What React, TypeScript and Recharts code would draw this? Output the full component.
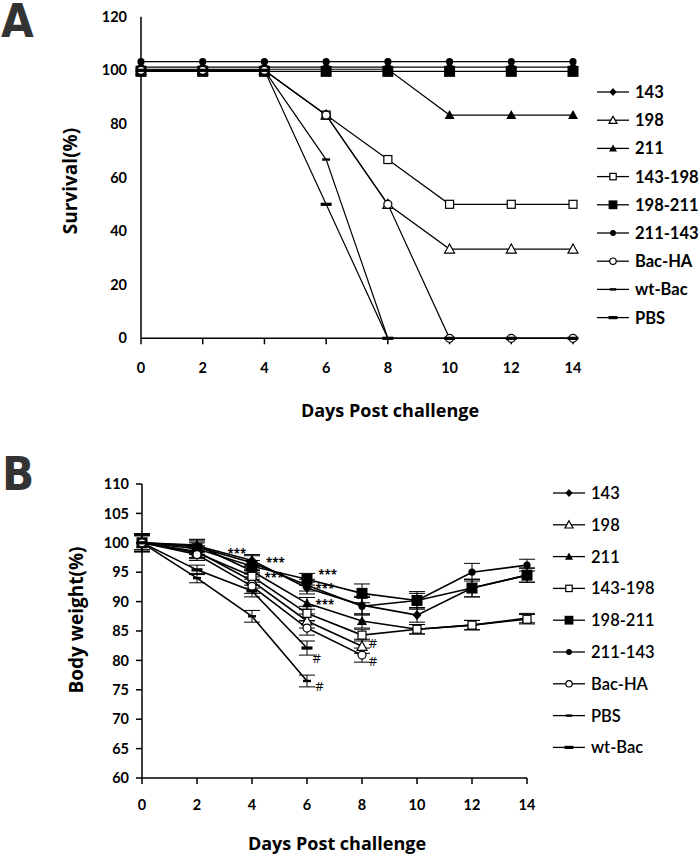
import React from 'react';
import {
  LineChart,
  Line,
  XAxis,
  YAxis,
  ErrorBar,
  ReferenceDot,
} from 'recharts';

// days sampled in both panels
const days = [0, 2, 4, 6, 8, 10, 12, 14];

// panel A: survival (%)
const surv143 = [101.2, 101.2, 101.2, 101.2, 101.2, 101.2, 101.2, 101.2];
const surv198 = [100, 100, 100, 83.3, 50, 33.3, 33.3, 33.3];
const surv211 = [100.4, 100.4, 100.4, 100.4, 100.4, 83.3, 83.3, 83.3];
const surv143_198 = [100, 100, 100, 83.3, 66.7, 50, 50, 50];
const surv198_211 = [99.6, 99.6, 99.6, 99.6, 99.6, 99.6, 99.6, 99.6];
const surv211_143 = [103.2, 103.2, 103.2, 103.2, 103.2, 103.2, 103.2, 103.2];
const survBacHA = [100, 100, 100, 83.3, 50, 0, 0, 0];
const survWtBac = [100, 100, 100, 66.7, 0, 0, 0, 0];
const survPBS = [100, 100, 100, 50, 0, 0, 0, 0];

// panel B: body weight (%)
const w143 = [100, 99.5, 97.0, 92.3, 89.4, 87.7, 92.3, 94.5];
const w198 = [100, 98.5, 93.5, 86.7, 82.4, null, null, null];
const w211 = [100, 99.6, 95.2, 89.7, 86.7, 85.3, 86.0, 87.2];
const w143_198 = [100, 98.3, 94.3, 88.0, 84.3, 85.3, 86.0, 87.0];
const w198_211 = [100, 99.0, 96.0, 93.8, 91.4, 90.2, 92.3, 94.5];
const w211_143 = [100, 99.3, 96.6, 92.8, 89.2, 90.2, 95.0, 96.2];
const wBacHA = [100, 98.0, 92.6, 85.5, 80.9, null, null, null];
const wWtBac = [100, 95.4, 91.8, 82.1, null, null, null, null];
const wPBS = [100, 94.0, 87.5, 76.5, null, null, null, null];

// panel B: error bars (+/-)
const e143 = [1.5, 1.0, 1.0, 1.0, 1.5, 1.2, 1.5, 1.2];
const e198 = [1.5, 1.0, 1.2, 1.2, 1.2, null, null, null];
const e211 = [1.5, 1.0, 1.0, 1.0, 1.2, 0.8, 0.8, 0.8];
const e143_198 = [1.5, 1.0, 1.0, 1.2, 1.0, 0.8, 0.8, 0.8];
const e198_211 = [1.5, 1.0, 1.0, 1.0, 1.6, 1.5, 1.5, 1.2];
const e211_143 = [1.5, 1.0, 1.2, 1.0, 1.5, 1.2, 1.5, 1.0];
const eBacHA = [1.5, 1.0, 1.2, 1.2, 1.2, null, null, null];
const eWtBac = [1.2, 0.8, 1.0, 1.2, null, null, null, null];
const ePBS = [1.2, 0.8, 1.0, 1.0, null, null, null, null];

// panel B: significance marks
const noteText = ['***', '***', '***', '***', '***', '***', '#', '#', '#', '#'];
const noteDay = [3.45, 4.85, 4.8, 6.75, 6.65, 6.65, 6.35, 6.45, 8.4, 8.4];
const noteValue = [98.1, 96.6, 94.0, 94.6, 92.1, 89.5, 80.4, 75.6, 82.9, 79.8];

const FONT = 'Lato, "Open Sans", sans-serif';
const TITLE_FONT = '"Open Sans", Lato, sans-serif';

type Shape =
  | 'diamond'
  | 'triangleOpen'
  | 'triangle'
  | 'squareOpen'
  | 'square'
  | 'circle'
  | 'circleOpen'
  | 'dashSmall'
  | 'dash';

function Marker({ shape, cx, cy, k = 1 }: { shape: Shape; cx: number; cy: number; k?: number }) {
  switch (shape) {
    case 'diamond':
      return <polygon points={`${cx},${cy - 5 * k} ${cx + 4.5 * k},${cy} ${cx},${cy + 5 * k} ${cx - 4.5 * k},${cy}`} fill="#000" />;
    case 'triangleOpen':
      return <polygon points={`${cx},${cy - 5 * k} ${cx + 5 * k},${cy + 4 * k} ${cx - 5 * k},${cy + 4 * k}`} fill="#fff" stroke="#000" strokeWidth={1.2} />;
    case 'triangle':
      return <polygon points={`${cx},${cy - 5 * k} ${cx + 5 * k},${cy + 4 * k} ${cx - 5 * k},${cy + 4 * k}`} fill="#000" />;
    case 'squareOpen':
      return <rect x={cx - 4 * k} y={cy - 4 * k} width={8 * k} height={8 * k} fill="#fff" stroke="#000" strokeWidth={1.2} />;
    case 'square':
      return <rect x={cx - 5.5 * k} y={cy - 5.5 * k} width={11 * k} height={11 * k} fill="#000" />;
    case 'circle':
      return <circle cx={cx} cy={cy} r={3.6 * k} fill="#000" />;
    case 'circleOpen':
      return <circle cx={cx} cy={cy} r={4 * k} fill="#fff" stroke="#000" strokeWidth={1.2} />;
    case 'dashSmall':
      return <rect x={cx - 4 * k} y={cy - 1.2} width={8 * k} height={2.4} fill="#000" />;
    case 'dash':
      return <rect x={cx - 5.5 * k} y={cy - 1.6} width={11 * k} height={3.2} fill="#000" />;
  }
  return null;
}

const survSeries: { key: string; name: string; shape: Shape; values: number[] }[] = [
  { key: 's143', name: '143', shape: 'diamond', values: surv143 },
  { key: 's198', name: '198', shape: 'triangleOpen', values: surv198 },
  { key: 's211', name: '211', shape: 'triangle', values: surv211 },
  { key: 's143_198', name: '143-198', shape: 'squareOpen', values: surv143_198 },
  { key: 's198_211', name: '198-211', shape: 'square', values: surv198_211 },
  { key: 's211_143', name: '211-143', shape: 'circle', values: surv211_143 },
  { key: 'sBacHA', name: 'Bac-HA', shape: 'circleOpen', values: survBacHA },
  { key: 'sWtBac', name: 'wt-Bac', shape: 'dashSmall', values: survWtBac },
  { key: 'sPBS', name: 'PBS', shape: 'dash', values: survPBS },
];

const weightSeries: { key: string; name: string; shape: Shape; values: (number | null)[]; errors: (number | null)[] }[] = [
  { key: 'w143', name: '143', shape: 'diamond', values: w143, errors: e143 },
  { key: 'w198', name: '198', shape: 'triangleOpen', values: w198, errors: e198 },
  { key: 'w211', name: '211', shape: 'triangle', values: w211, errors: e211 },
  { key: 'w143_198', name: '143-198', shape: 'squareOpen', values: w143_198, errors: e143_198 },
  { key: 'w198_211', name: '198-211', shape: 'square', values: w198_211, errors: e198_211 },
  { key: 'w211_143', name: '211-143', shape: 'circle', values: w211_143, errors: e211_143 },
  { key: 'wBacHA', name: 'Bac-HA', shape: 'circleOpen', values: wBacHA, errors: eBacHA },
  { key: 'wPBS', name: 'PBS', shape: 'dashSmall', values: wPBS, errors: ePBS },
  { key: 'wWtBac', name: 'wt-Bac', shape: 'dash', values: wWtBac, errors: eWtBac },
];

const survData = days.map((d, i) => {
  const row: Record<string, number> = { day: d };
  survSeries.forEach((s) => (row[s.key] = s.values[i]));
  return row;
});

const weightData = days.map((d, i) => {
  const row: Record<string, number | null> = { day: d };
  weightSeries.forEach((s) => {
    row[s.key] = s.values[i];
    row[s.key + '_err'] = s.errors[i];
  });
  return row;
});

const dotFor = (shape: Shape, key: string) => (p: any) => {
  if (p.cx == null || p.cy == null || p.value == null) return <g key={`${key}-${p.index}`} />;
  return (
    <g key={`${key}-${p.index}`}>
      <Marker shape={shape} cx={p.cx} cy={p.cy} />
    </g>
  );
};

function SideLegend({
  items,
  left,
  top,
  step,
  weight,
}: {
  items: { name: string; shape: Shape }[];
  left: number;
  top: number;
  step: number;
  weight: number | string;
}) {
  return (
    <svg style={{ position: 'absolute', left, top, overflow: 'visible' }} width={140} height={step * items.length + 20}>
      {items.map((it, i) => {
        const y = 12 + i * step;
        return (
          <g key={it.name}>
            <line x1={0} x2={32} y1={y} y2={y} stroke="#000" strokeWidth={1.3} />
            <Marker shape={it.shape} cx={16} cy={y} k={0.8} />
            <text x={38} y={y} dy="0.36em" fontFamily={FONT} fontWeight={weight} fontSize={16.5} fill="#000">
              {it.name}
            </text>
          </g>
        );
      })}
    </svg>
  );
}

const axisTick = { fill: '#000', fontSize: 14.5, fontWeight: 700, fontFamily: FONT };
const titleStyle: React.CSSProperties = {
  position: 'absolute',
  fontFamily: TITLE_FONT,
  fontWeight: 700,
  fontSize: 18,
  color: '#000',
  whiteSpace: 'nowrap',
  transform: 'translate(-50%, -50%)',
};
const panelLetter: React.CSSProperties = {
  position: 'absolute',
  fontFamily: '"DejaVu Sans Condensed", "DejaVu Sans", sans-serif',
  fontWeight: 700,
  fontSize: 47,
  lineHeight: 0.85,
  color: '#333',
};

export default function App() {
  return (
    <div style={{ position: 'absolute', left: 0, top: 0, width: 699, height: 855, background: '#fff', overflow: 'hidden' }}>
      <div style={{ ...panelLetter, left: 1, top: 1 }}>A</div>
      <div style={{ ...panelLetter, left: 2, top: 454 }}>B</div>

      {/* Panel A */}
      <div style={{ position: 'absolute', left: 0, top: 0 }}>
        <LineChart width={699} height={430} data={survData} margin={{ top: 16.7, right: 126, bottom: 61.7, left: 0 }}>
          <XAxis
            dataKey="day"
            type="number"
            domain={[0, 14]}
            ticks={days}
            height={30}
            stroke="#000"
            strokeWidth={1.5}
            tickSize={6}
            tickMargin={18}
            tick={axisTick}
          />
          <YAxis
            type="number"
            domain={[0, 120]}
            ticks={[0, 20, 40, 60, 80, 100, 120]}
            width={141}
            stroke="#000"
            strokeWidth={1.5}
            tickLine={false}
            tickSize={0}
            tickMargin={14}
            tick={axisTick}
          />
          {survSeries.map((s) => (
            <Line
              key={s.key}
              type="linear"
              dataKey={s.key}
              stroke="#000"
              strokeWidth={1.2}
              dot={dotFor(s.shape, s.key)}
              activeDot={false}
              isAnimationActive={false}
            />
          ))}
        </LineChart>
      </div>
      <SideLegend items={survSeries} left={597} top={80} step={28.2} weight={700} />
      <div style={{ ...titleStyle, left: 390, top: 410 }}>Days Post challenge</div>
      <div style={{ ...titleStyle, fontSize: 19, left: 70, top: 181, transform: 'translate(-50%, -50%) rotate(-90deg)' }}>Survival(%)</div>

      {/* Panel B */}
      <div style={{ position: 'absolute', left: 0, top: 440 }}>
        <LineChart width={699} height={415} data={weightData} margin={{ top: 44, right: 172, bottom: 47, left: 0 }}>
          <XAxis
            dataKey="day"
            type="number"
            domain={[0, 14]}
            ticks={days}
            height={30}
            stroke="#000"
            strokeWidth={1.5}
            tickSize={6}
            tickMargin={16}
            tick={axisTick}
          />
          <YAxis
            type="number"
            domain={[60, 110]}
            ticks={[60, 65, 70, 75, 80, 85, 90, 95, 100, 105, 110]}
            width={142}
            stroke="#000"
            strokeWidth={1.5}
            tickSize={6}
            tickMargin={7}
            tick={axisTick}
          />
          {weightSeries.map((s) => (
            <Line
              key={s.key}
              type="linear"
              dataKey={s.key}
              stroke="#000"
              strokeWidth={1.6}
              dot={dotFor(s.shape, s.key)}
              activeDot={false}
              connectNulls={false}
              isAnimationActive={false}
            >
              <ErrorBar dataKey={s.key + '_err'} direction="y" width={8} stroke="#000" strokeWidth={1} isAnimationActive={false} />
            </Line>
          ))}
          {noteText.map((t, i) => (
            <ReferenceDot
              key={`note-${i}`}
              x={noteDay[i]}
              y={noteValue[i]}
              r={0}
              stroke="none"
              fill="none"
              label={{
                value: t,
                position: 'center',
                fill: '#000',
                fontSize: t === '#' ? 13 : 11.5,
                fontFamily: TITLE_FONT,
                fontWeight: t === '#' ? 400 : 700,
              }}
            />
          ))}
        </LineChart>
      </div>
      <SideLegend items={weightSeries} left={553} top={481} step={31.8} weight={600} />
      <div style={{ ...titleStyle, left: 337, top: 843 }}>Days Post challenge</div>
      <div style={{ ...titleStyle, fontSize: 19, left: 76, top: 620, transform: 'translate(-50%, -50%) rotate(-90deg)' }}>Body weight(%)</div>
    </div>
  );
}
